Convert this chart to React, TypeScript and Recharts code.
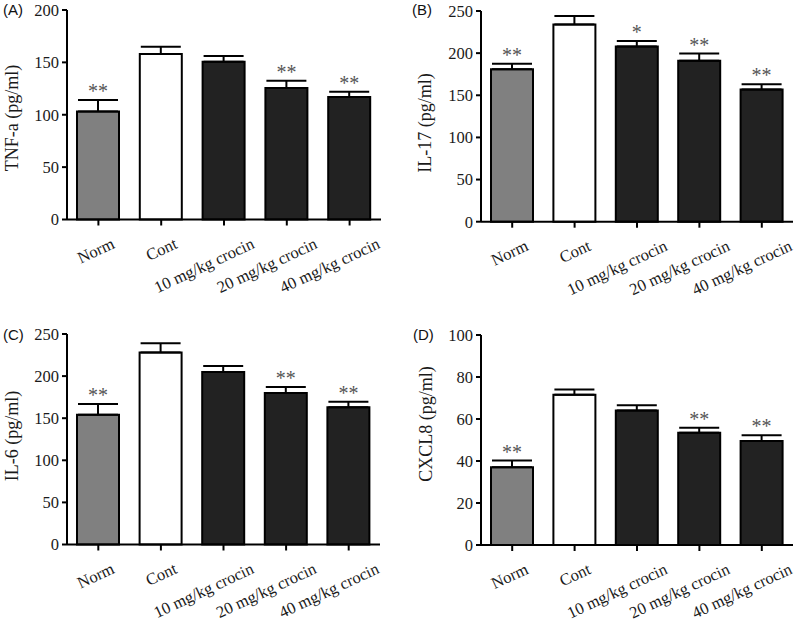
import React from "react";
import { BarChart, Bar, XAxis, YAxis, ErrorBar, Cell, LabelList } from "recharts";

const groups = ["Norm", "Cont", "10 mg/kg crocin", "20 mg/kg crocin", "40 mg/kg crocin"];
const groupFills = ["#808080", "#ffffff", "#222222", "#222222", "#222222"];

// TNF-a
const tnfMean = [103, 158, 150.5, 125.5, 117];
const tnfSem = [11, 7, 5.5, 7, 5];
const tnfSig = ["**", "", "", "**", "**"];
const tnfTicks = [0, 50, 100, 150, 200];

// IL-17
const il17Mean = [181, 234, 208, 191, 157];
const il17Sem = [6.5, 10, 6.5, 8.5, 6];
const il17Sig = ["**", "", "*", "**", "**"];
const il17Ticks = [0, 50, 100, 150, 200, 250];

// IL-6
const il6Mean = [154, 228, 205, 180, 163];
const il6Sem = [13, 11, 7, 7, 6.5];
const il6Sig = ["**", "", "", "**", "**"];
const il6Ticks = [0, 50, 100, 150, 200, 250];

// CXCL8
const cxcl8Mean = [37, 71.5, 64, 53.5, 49.5];
const cxcl8Sem = [3.2, 2.5, 2.5, 2.3, 2.8];
const cxcl8Sig = ["**", "", "", "**", "**"];
const cxcl8Ticks = [0, 20, 40, 60, 80, 100];

const SERIF = '"Liberation Serif", "Times New Roman", serif';
const SANS = '"Liberation Sans", Arial, sans-serif';

const XTick = (props: any) => {
  const { x, y, payload } = props;
  const label: string = payload.value;
  const px = x + 12 + label.length * 1.3;
  const py = y + 20;
  return (
    <text
      x={px}
      y={py}
      textAnchor="end"
      transform={`rotate(-25 ${px} ${py})`}
      fontFamily={SERIF}
      fontSize={16.5}
      fill="#1a1a1a"
    >
      {label}
    </text>
  );
};

type PanelProps = {
  tag: string;
  yLabel: string;
  mean: number[];
  sem: number[];
  sig: string[];
  ticks: number[];
  box: { left: number; top: number; width: number; height: number };
  plot: { left: number; top: number; right: number; bottom: number };
  labelPos: { x: number; y: number };
  tagPos: { x: number; y: number };
};

function Panel({ tag, yLabel, mean, sem, sig, ticks, box, plot, labelPos, tagPos }: PanelProps) {
  const data = groups.map((name, i) => ({ name, mean: mean[i], err: [0, sem[i]] }));
  const xAxisHeight = 70;
  const margin = {
    top: plot.top - box.top,
    left: 0,
    right: box.left + box.width - plot.right,
    bottom: box.top + box.height - plot.bottom - xAxisHeight,
  };

  // significance stars sit just above the error bar cap
  const renderStars = (p: any) => {
    const { x, y, width, height, index, value } = p;
    const s = sig[index];
    if (!s) return null;
    const perUnit = height / value;
    const top = y - sem[index] * perUnit;
    return (
      <text x={x + width / 2} y={top - 2} textAnchor="middle" fontFamily={SERIF} fontSize={20} fill="#555">
        {s}
      </text>
    );
  };

  return (
    <>
      <div
        style={{
          position: "absolute",
          left: tagPos.x,
          top: tagPos.y,
          fontFamily: SANS,
          fontSize: 15,
          lineHeight: 1,
          color: "#111",
        }}
      >
        {tag}
      </div>
      <div style={{ position: "absolute", left: box.left, top: box.top }}>
        <BarChart width={box.width} height={box.height} data={data} margin={margin}>
          <XAxis
            dataKey="name"
            height={xAxisHeight}
            axisLine={{ stroke: "#000", strokeWidth: 2 }}
            tickLine={{ stroke: "#000", strokeWidth: 2 }}
            tickSize={6}
            tickMargin={2}
            interval={0}
            tick={<XTick />}
          />
          <YAxis
            type="number"
            width={plot.left - box.left}
            domain={[ticks[0], ticks[ticks.length - 1]]}
            ticks={ticks}
            interval={0}
            axisLine={{ stroke: "#000", strokeWidth: 2 }}
            tickLine={{ stroke: "#000", strokeWidth: 2 }}
            tickSize={5}
            tickMargin={3}
            tick={{ fontFamily: SERIF, fontSize: 16.5, fill: "#1a1a1a" }}
            label={{
              content: () => (
                <text
                  x={labelPos.x - box.left}
                  y={labelPos.y - box.top}
                  transform={`rotate(-90 ${labelPos.x - box.left} ${labelPos.y - box.top})`}
                  textAnchor="middle"
                  dominantBaseline="central"
                  fontFamily={SERIF}
                  fontSize={18}
                  fill="#1a1a1a"
                >
                  {yLabel}
                </text>
              ),
            }}
          />
          <Bar dataKey="mean" barSize={42} stroke="#000" strokeWidth={2} isAnimationActive={false}>
            {data.map((d, i) => (
              <Cell key={d.name} fill={groupFills[i]} />
            ))}
            <ErrorBar dataKey="err" direction="y" width={20} stroke="#000" strokeWidth={2} />
            <LabelList dataKey="mean" content={renderStars} />
          </Bar>
        </BarChart>
      </div>
    </>
  );
}

export default function App() {
  return (
    <div style={{ position: "absolute", left: 0, top: 0, width: 800, height: 621, background: "#fff" }}>
      <Panel
        tag="(A)"
        yLabel="TNF-a (pg/ml)"
        mean={tnfMean}
        sem={tnfSem}
        sig={tnfSig}
        ticks={tnfTicks}
        box={{ left: 0, top: 0, width: 400, height: 310 }}
        plot={{ left: 67, top: 10, right: 381, bottom: 219.5 }}
        labelPos={{ x: 12, y: 118 }}
        tagPos={{ x: 3, y: 2 }}
      />
      <Panel
        tag="(B)"
        yLabel="IL-17 (pg/ml)"
        mean={il17Mean}
        sem={il17Sem}
        sig={il17Sig}
        ticks={il17Ticks}
        box={{ left: 400, top: 0, width: 400, height: 310 }}
        plot={{ left: 481, top: 11, right: 793, bottom: 221.7 }}
        labelPos={{ x: 425, y: 123 }}
        tagPos={{ x: 412, y: 2 }}
      />
      <Panel
        tag="(C)"
        yLabel="IL-6 (pg/ml)"
        mean={il6Mean}
        sem={il6Sem}
        sig={il6Sig}
        ticks={il6Ticks}
        box={{ left: 0, top: 310, width: 400, height: 311 }}
        plot={{ left: 67, top: 334, right: 380, bottom: 544.5 }}
        labelPos={{ x: 12, y: 436 }}
        tagPos={{ x: 3, y: 327 }}
      />
      <Panel
        tag="(D)"
        yLabel="CXCL8 (pg/ml)"
        mean={cxcl8Mean}
        sem={cxcl8Sem}
        sig={cxcl8Sig}
        ticks={cxcl8Ticks}
        box={{ left: 400, top: 310, width: 400, height: 311 }}
        plot={{ left: 481, top: 335, right: 793, bottom: 545 }}
        labelPos={{ x: 426, y: 424 }}
        tagPos={{ x: 413, y: 327 }}
      />
    </div>
  );
}
